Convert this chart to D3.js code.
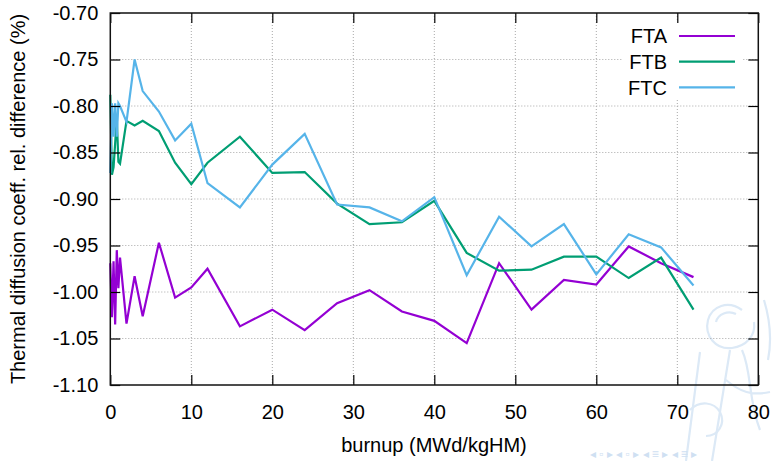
<!DOCTYPE html>
<html>
<head>
<meta charset="utf-8">
<script src="https://cdn.jsdelivr.net/npm/d3@7"></script>
<style>
  html, body { margin: 0; padding: 0; background: #fff; }
  svg { display: block; font-family: "Liberation Sans", Arial, Helvetica, sans-serif; }
</style>
</head>
<body>
<svg id="chart" width="773" height="461"></svg>
<script>
// Burnup steps (MWd/kgHM) shared by all three series
const burnup = [0, 0.2, 0.4, 0.6, 0.8, 1.0, 1.2, 2, 3, 4, 6, 8, 10, 12, 16, 20, 24, 28, 32, 36, 40, 44, 48, 52, 56, 60, 64, 68, 72];

// Relative difference of the thermal diffusion coefficient (%)
const fta = [-0.969, -1.027, -0.967, -1.035, -0.955, -0.996, -0.963, -1.034, -0.983, -1.026, -0.947, -1.006, -0.995, -0.975, -1.037, -1.019, -1.041, -1.012, -0.998, -1.021, -1.031, -1.055, -0.969, -1.019, -0.987, -0.992, -0.951, -0.969, -0.984];
const ftb = [-0.788, -0.874, -0.866, -0.840, -0.813, -0.860, -0.862, -0.816, -0.821, -0.816, -0.827, -0.861, -0.884, -0.861, -0.833, -0.872, -0.871, -0.905, -0.927, -0.925, -0.902, -0.958, -0.977, -0.976, -0.962, -0.962, -0.985, -0.963, -1.019];
const ftc = [-0.872, -0.797, -0.833, -0.797, -0.833, -0.797, -0.800, -0.817, -0.750, -0.784, -0.806, -0.837, -0.819, -0.883, -0.909, -0.863, -0.830, -0.906, -0.909, -0.924, -0.898, -0.982, -0.919, -0.951, -0.927, -0.981, -0.938, -0.952, -0.993];

const seriesNames = ["FTA", "FTB", "FTC"];
const seriesColors = ["#9400d3", "#009e73", "#56b4e9"];

const xTicks = [0, 10, 20, 30, 40, 50, 60, 70, 80];
const yTicks = [-0.70, -0.75, -0.80, -0.85, -0.90, -0.95, -1.00, -1.05, -1.10];

const xTitle = "burnup (MWd/kgHM)";
const yTitle = "Thermal diffusion coeff. rel. difference (%)";

const svg = d3.select("#chart");
const plotL = 110.3, plotR = 758.3, plotT = 13, plotB = 385;

const x = d3.scaleLinear().domain([0, 80]).range([plotL, plotR]);
const y = d3.scaleLinear().domain([-1.10, -0.70]).range([plotB, plotT]);

// faint logo watermark in the lower right corner
const wm = svg.append("g").attr("fill", "none").attr("stroke", "#dce9f6").attr("stroke-width", 2.2);
wm.append("path").attr("d", "M742,310 C728,300 712,306 708,320 C704,336 716,350 732,348 C746,346 756,336 754,322");
wm.append("path").attr("d", "M716,322 C718,314 728,310 736,314 M700,352 L686,461 M730,350 L712,461 M742,350 C752,372 748,400 760,430 M726,380 C740,392 752,396 770,392 M764,300 C770,320 772,340 768,360");
wm.append("path").attr("d", "M690,410 C700,400 714,402 720,412 C726,424 718,436 706,436");

// dotted grid
const grid = svg.append("g").attr("stroke", "#a8a8a8").attr("stroke-width", 1).attr("stroke-dasharray", "1,2");
grid.selectAll("line.gy").data(yTicks.slice(1, -1)).join("line")
  .attr("x1", plotL).attr("x2", plotR)
  .attr("y1", d => y(d)).attr("y2", d => y(d));
grid.selectAll("line.gx").data(xTicks.slice(1, -1)).join("line")
  .attr("x1", d => x(d)).attr("x2", d => x(d))
  .attr("y1", plotT).attr("y2", plotB);

// key background hides the grid behind it
svg.append("rect").attr("x", 622).attr("y", 22).attr("width", 121).attr("height", 78).attr("fill", "#fff");

// data lines
const lineGen = d3.line().x((d, i) => x(burnup[i])).y(d => y(d));
[fta, ftb, ftc].forEach((vals, k) => {
  svg.append("path")
    .attr("d", lineGen(vals))
    .attr("fill", "none")
    .attr("stroke", seriesColors[k])
    .attr("stroke-width", 2.2)
    .attr("stroke-linejoin", "miter");
});

// axes with inward ticks, mirrored on top and right
const fmt = d3.format(".2f");
const axL = svg.append("g").attr("transform", `translate(${plotL},0)`)
  .call(d3.axisLeft(y).tickValues(yTicks).tickSize(-10).tickPadding(12).tickFormat(d => fmt(d).replace("−", "-")));
const axR = svg.append("g").attr("transform", `translate(${plotR},0)`)
  .call(d3.axisRight(y).tickValues(yTicks).tickSize(-10).tickFormat(""));
const axB = svg.append("g").attr("transform", `translate(0,${plotB})`)
  .call(d3.axisBottom(x).tickValues(xTicks).tickSize(-10).tickPadding(20).tickFormat(d3.format("d")));
const axT = svg.append("g").attr("transform", `translate(0,${plotT})`)
  .call(d3.axisTop(x).tickValues(xTicks).tickSize(-10).tickFormat(""));

[axL, axR, axB, axT].forEach(g => {
  g.select(".domain").remove();
  g.selectAll(".tick line").attr("stroke", "#000").attr("stroke-width", 1.2);
  g.selectAll("text").attr("fill", "#000").style("font-size", "20px")
    .style("font-family", "'Liberation Sans', Arial, sans-serif");
});

// border
svg.append("rect").attr("x", plotL).attr("y", plotT).attr("width", plotR - plotL).attr("height", plotB - plotT)
  .attr("fill", "none").attr("stroke", "#111").attr("stroke-width", 1.5);

// key
const key = svg.append("g");
seriesNames.forEach((name, k) => {
  const cy = 36 + k * 25.7;
  key.append("text").attr("x", 667).attr("y", cy + 7.2).attr("text-anchor", "end")
    .style("font-size", "20px").text(name);
  key.append("line").attr("x1", 679).attr("x2", 735).attr("y1", cy).attr("y2", cy)
    .attr("stroke", seriesColors[k]).attr("stroke-width", 2.2);
});

// axis titles
svg.append("text").attr("x", 434).attr("y", 452).attr("text-anchor", "middle")
  .style("font-size", "20px").text(xTitle);
svg.append("text").attr("transform", "translate(25,199) rotate(-90)").attr("text-anchor", "middle")
  .style("font-size", "20px").text(yTitle);

// faint slide navigation symbols along the bottom edge
svg.append("text").attr("x", 590).attr("y", 458).attr("fill", "#cfe0f2")
  .style("font-size", "12px").text("◂ ▫ ▸ ◂ ▫ ▸ ◂ ≡ ▸ ◂ ≡ ▸");
</script>
</body>
</html>
